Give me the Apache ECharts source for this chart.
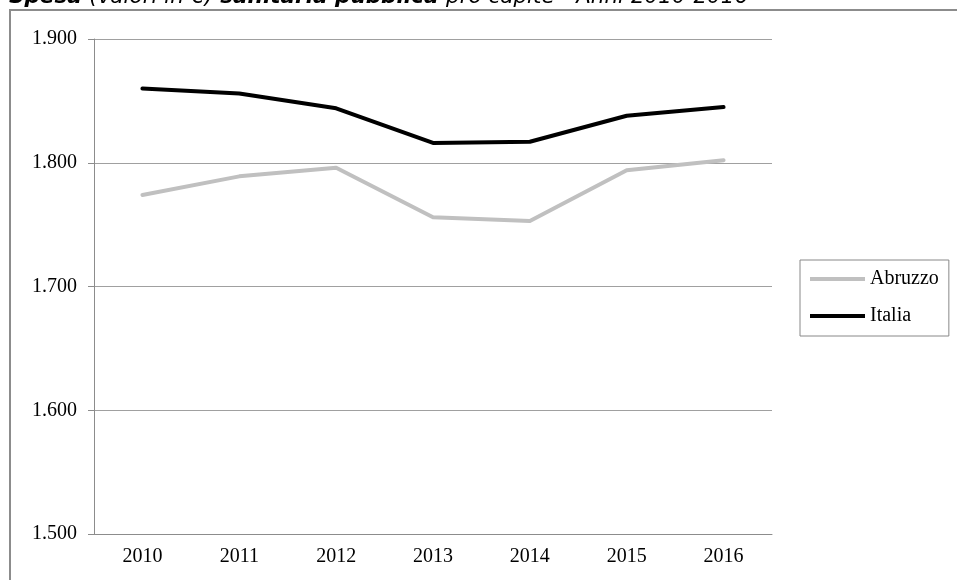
<!DOCTYPE html>
<html>
<head>
<meta charset="utf-8">
<script src="https://cdn.jsdelivr.net/npm/echarts@6/dist/echarts.min.js"></script>
<style>
  html, body {margin: 0; padding: 0; background: #fff;}
  #chart {width: 957px; height: 580px;}
</style>
</head>
<body>
<div id="chart"></div>
<script>
// anni
const anni = ['2010', '2011', '2012', '2013', '2014', '2015', '2016'];
// spesa pro capite (€)
const abruzzo = [1774, 1789, 1796, 1756, 1753, 1794, 1802];
const italia = [1860, 1856, 1844, 1816, 1817, 1838, 1845];
// asse y
const yMin = 1500;
const yMax = 1900;
const yStep = 100;

const serif = '"Liberation Serif", "Times New Roman", serif';
const sans = '"DejaVu Sans", Verdana, sans-serif';

let myChart = echarts.init(document.getElementById('chart'));
myChart.setOption({
    animation: false,
    title: {
        text: '{b|Spesa} {i|(valori in €)} {b|sanitaria pubblica} {i|pro capite - Anni 2010-2016}',
        left: 9,
        top: -13,
        padding: 0,
        textStyle: {
            fontFamily: sans,
            fontSize: 21.5,
            lineHeight: 21.5,
            rich: {
                b: {fontFamily: sans, fontSize: 21.5, lineHeight: 21.5, fontWeight: 'bold', fontStyle: 'italic', color: '#000'},
                i: {fontFamily: sans, fontSize: 21.5, lineHeight: 21.5, fontWeight: 'normal', fontStyle: 'italic', color: '#000'}
            }
        }
    },
    grid: {left: 94, right: 185, top: 39, bottom: 46},
    graphic: [
        {
            // cornice
            type: 'rect',
            shape: {x: 10, y: 10, width: 1000, height: 700},
            style: {fill: 'none', stroke: '#8c8c8c', lineWidth: 2},
            silent: true
        }
    ],
    legend: {
        orient: 'vertical',
        left: 800,
        top: 260,
        padding: [9, 10, 10, 10],
        borderColor: '#888',
        borderWidth: 1,
        icon: 'rect',
        itemWidth: 55,
        itemHeight: 4,
        itemGap: 17,
        textStyle: {fontFamily: serif, fontSize: 20, lineHeight: 20, color: '#000'},
        data: ['Abruzzo', 'Italia']
    },
    xAxis: {
        type: 'category',
        data: anni,
        boundaryGap: true,
        axisLine: {lineStyle: {color: '#8c8c8c', width: 1}},
        axisTick: {length: 7, lineStyle: {color: '#8c8c8c'}},
        axisLabel: {fontFamily: serif, fontSize: 20, color: '#000', margin: 13}
    },
    yAxis: {
        type: 'value',
        min: yMin,
        max: yMax,
        interval: yStep,
        axisLine: {show: true, lineStyle: {color: '#8c8c8c', width: 1}},
        axisTick: {show: true, length: 6, lineStyle: {color: '#8c8c8c'}},
        axisLabel: {
            fontFamily: serif, fontSize: 20, color: '#000', margin: 17,
            formatter: function (v) { return (v / 1000).toFixed(3); }
        },
        splitLine: {lineStyle: {color: '#a0a0a0', width: 1}}
    },
    series: [
        {
            name: 'Abruzzo',
            type: 'line',
            data: abruzzo,
            showSymbol: false,
            color: '#c0c0c0',
            lineStyle: {width: 4, color: '#c0c0c0', join: 'round', cap: 'round'}
        },
        {
            name: 'Italia',
            type: 'line',
            data: italia,
            showSymbol: false,
            color: '#000',
            lineStyle: {width: 4, color: '#000', join: 'round', cap: 'round'}
        }
    ]
});
</script>
</body>
</html>
